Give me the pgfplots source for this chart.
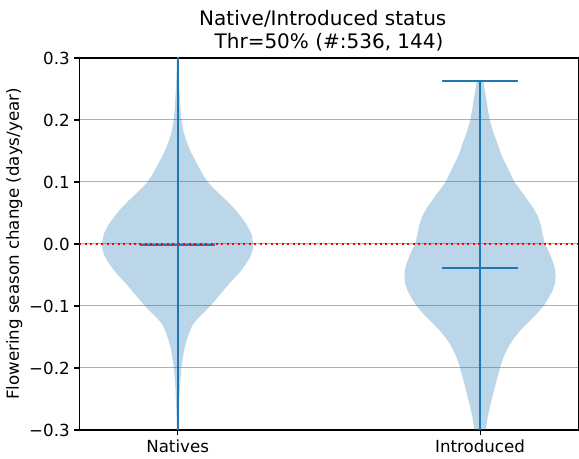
\documentclass[border=0pt]{standalone}
\usepackage{fontspec}
\setmainfont{DejaVu Sans}
\usepackage{pgfplots}
\pgfplotsset{compat=1.18}
\usetikzlibrary{calc}
\definecolor{C0}{HTML}{1F77B4}
\definecolor{gridc}{HTML}{B0B0B0}
\begin{document}
\begin{tikzpicture}
\begin{axis}[
  name=ax,
  scale only axis,
  width=374.25pt, height=279pt,
  xmin=0.675, xmax=2.325, ymin=-0.3, ymax=0.3,
  xtick={1,2}, xticklabels={Natives,Introduced},
  ytick={-0.3,-0.2,-0.1,0,0.1,0.2,0.3},
  yticklabels={−0.3,−0.2,−0.1,0.0,0.1,0.2,0.3},
  tick align=outside, major tick length=3.68pt,
  xtick pos=bottom, ytick pos=left,
  tick style={black, line width=0.8pt},
  minor tick num=0,
  ymajorgrids, grid style={gridc, line width=0.75pt},
  axis line style={black, line width=0.8pt},
  ticklabel style={font=\fontsize{12.5}{15}\selectfont},
  clip=true,
]
% Natives violin body
\addplot[draw=none, fill=C0, fill opacity=0.3] coordinates {
(1.002,0.32) (1.003,0.30) (1.004,0.27) (1.006,0.25) (1.009,0.22) (1.013,0.20) (1.020,0.18) (1.030,0.165) (1.042,0.15) (1.058,0.135) (1.072,0.122) (1.086,0.11) (1.100,0.10) (1.118,0.09) (1.140,0.08) (1.162,0.07) (1.186,0.058) (1.208,0.045) (1.229,0.031) (1.245,0.015) (1.250,0.0) (1.248,-0.010) (1.241,-0.020) (1.225,-0.033) (1.203,-0.047) (1.178,-0.060) (1.153,-0.074) (1.131,-0.087) (1.108,-0.100) (1.088,-0.110) (1.071,-0.118) (1.058,-0.125) (1.047,-0.133) (1.037,-0.145) (1.030,-0.155) (1.022,-0.170) (1.018,-0.182) (1.012,-0.200) (1.007,-0.235) (1.004,-0.270) (1.003,-0.300) (1.002,-0.320)
(0.998,-0.320) (0.997,-0.300) (0.996,-0.270) (0.993,-0.235) (0.988,-0.200) (0.982,-0.182) (0.978,-0.170) (0.970,-0.155) (0.963,-0.145) (0.953,-0.133) (0.942,-0.125) (0.929,-0.118) (0.912,-0.110) (0.892,-0.100) (0.869,-0.087) (0.847,-0.074) (0.822,-0.060) (0.797,-0.047) (0.775,-0.033) (0.759,-0.020) (0.752,-0.010) (0.750,0.0) (0.755,0.015) (0.771,0.031) (0.792,0.045) (0.814,0.058) (0.838,0.07) (0.860,0.08) (0.882,0.09) (0.900,0.10) (0.914,0.11) (0.928,0.122) (0.942,0.135) (0.958,0.15) (0.970,0.165) (0.980,0.18) (0.987,0.20) (0.991,0.22) (0.994,0.25) (0.996,0.27) (0.997,0.30) (0.998,0.32)
} -- cycle;
% Introduced violin body
\addplot[draw=none, fill=C0, fill opacity=0.3] coordinates {
(2.011,0.263) (2.015,0.25) (2.020,0.236) (2.025,0.22) (2.032,0.20) (2.044,0.18) (2.055,0.166) (2.066,0.15) (2.075,0.139) (2.094,0.12) (2.114,0.10) (2.133,0.087) (2.153,0.074) (2.176,0.058) (2.191,0.045) (2.201,0.031) (2.207,0.015) (2.215,0.0) (2.225,-0.010) (2.234,-0.020) (2.242,-0.030) (2.248,-0.040) (2.250,-0.053) (2.247,-0.065) (2.240,-0.075) (2.227,-0.087) (2.210,-0.100) (2.185,-0.114) (2.156,-0.128) (2.132,-0.140) (2.108,-0.155) (2.092,-0.168) (2.078,-0.182) (2.066,-0.200) (2.056,-0.218) (2.047,-0.235) (2.039,-0.250) (2.033,-0.262) (2.025,-0.280) (2.019,-0.300) (2.012,-0.320) (2.006,-0.340)
(1.994,-0.340) (1.988,-0.320) (1.981,-0.300) (1.975,-0.280) (1.967,-0.262) (1.961,-0.250) (1.953,-0.235) (1.944,-0.218) (1.934,-0.200) (1.922,-0.182) (1.908,-0.168) (1.892,-0.155) (1.868,-0.140) (1.844,-0.128) (1.815,-0.114) (1.790,-0.100) (1.773,-0.087) (1.760,-0.075) (1.753,-0.065) (1.750,-0.053) (1.752,-0.040) (1.758,-0.030) (1.766,-0.020) (1.775,-0.010) (1.785,0.0) (1.793,0.015) (1.799,0.031) (1.809,0.045) (1.824,0.058) (1.847,0.074) (1.867,0.087) (1.886,0.10) (1.906,0.12) (1.925,0.139) (1.934,0.15) (1.945,0.166) (1.956,0.18) (1.968,0.20) (1.975,0.22) (1.980,0.236) (1.985,0.25) (1.989,0.263)
} -- cycle;
% Natives lines
\addplot[C0, line width=1.56pt] coordinates {(1,-0.35) (1,0.35)};
\addplot[C0, line width=1.56pt] coordinates {(0.875,-0.002) (1.125,-0.002)};
% Introduced lines
\addplot[C0, line width=1.56pt] coordinates {(2,-0.35) (2,0.263)};
\addplot[C0, line width=1.56pt] coordinates {(1.875,0.263) (2.125,0.263)};
\addplot[C0, line width=1.56pt] coordinates {(1.875,-0.038) (2.125,-0.038)};
% zero line
\addplot[red, line width=1.5pt, dash pattern=on 1.5pt off 2.6pt] coordinates {(0.675,0) (2.325,0)};
\end{axis}
\node[anchor=base, font=\fontsize{15}{18}\selectfont] at ($(ax.north west)+(182.6pt,24pt)$) {Native/Introduced status};
\node[anchor=base, font=\fontsize{15}{18}\selectfont] at ($(ax.north west)+(187.3pt,7.3pt)$) {Thr=50\% (\#:536, 144)};
\node[anchor=base, rotate=90, font=\fontsize{12.5}{15}\selectfont] at ($(ax.south west)!0.5!(ax.north west)+(-45.4pt,0)$) {Flowering season change (days/year)};
\pgfresetboundingbox
\path[use as bounding box] ($(ax.south west)+(-59.5pt,-21.75pt)$) rectangle ($(ax.north east)+(0.5pt,43.5pt)$);
\end{tikzpicture}
\end{document}
